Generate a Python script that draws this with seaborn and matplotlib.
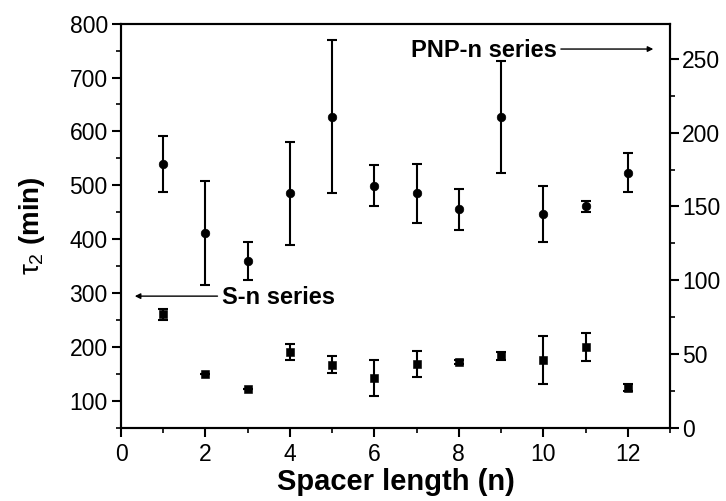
import matplotlib
matplotlib.use("Agg")
import matplotlib.pyplot as plt
import seaborn as sns
import numpy as np
import pandas as pd
from matplotlib.ticker import MultipleLocator

# ---- data ----
n_values = [1, 2, 3, 4, 5, 6, 7, 8, 9, 10, 11, 12]
# circles (PNP-n series, right axis)
pnp_tau2 = [179, 132, 113, 159, 211, 164, 159, 148, 211, 145, 150, 173]
pnp_err = [19, 35, 13, 35, 52, 14, 20, 14, 38, 19, 4, 13]
# squares (S-n series, left axis)
sn_tau2 = [260, 150, 121, 190, 167, 142, 168, 172, 183, 175, 200, 124]
sn_err = [10, 0, 0, 15, 15, 33, 24, 4, 8, 45, 26, 6]

x_ticks = [0, 2, 4, 6, 8, 10, 12]
left_ticks = [100, 200, 300, 400, 500, 600, 700, 800]
right_ticks = [0, 50, 100, 150, 200, 250]

sns.set_theme(style="ticks")
plt.rcParams['font.family'] = ['Liberation Sans', 'DejaVu Sans']
plt.rcParams['mathtext.fontset'] = 'custom'
plt.rcParams['mathtext.rm'] = 'Liberation Sans'
plt.rcParams['mathtext.it'] = 'Liberation Sans'
plt.rcParams['text.color'] = 'black'
plt.rcParams['axes.labelcolor'] = 'black'

fig = plt.figure(figsize=(7.26, 5.01), dpi=100)
ax = fig.add_axes([0.1667, 0.1467, 0.7562, 0.806])
ax2 = ax.twinx()

sn_df = pd.DataFrame({"n": n_values, "tau2": sn_tau2, "err": sn_err})
pnp_df = pd.DataFrame({"n": n_values, "tau2": pnp_tau2, "err": pnp_err})

# S-n on left axis (squares)
ax.errorbar(sn_df["n"], sn_df["tau2"], yerr=sn_df["err"], fmt='none',
            ecolor='black', elinewidth=1.5, capsize=3.7, capthick=1.5)
sns.scatterplot(data=sn_df, x="n", y="tau2", marker='s', s=26, color='black',
                edgecolor='black', ax=ax, legend=False, zorder=3)

# PNP-n on right axis (circles)
ax2.errorbar(pnp_df["n"], pnp_df["tau2"], yerr=pnp_df["err"], fmt='none',
             ecolor='black', elinewidth=1.5, capsize=3.7, capthick=1.5)
sns.scatterplot(data=pnp_df, x="n", y="tau2", marker='o', s=38, color='black',
                edgecolor='black', ax=ax2, legend=False, zorder=3)

ax.set_xlim(0, 13)
ax.set_ylim(50, 800)
ax2.set_ylim(0, 274)

ax.set_xticks(x_ticks)
ax.xaxis.set_minor_locator(MultipleLocator(1))
ax.set_yticks(left_ticks)
ax.yaxis.set_minor_locator(MultipleLocator(50))
ax2.set_yticks(right_ticks)
ax2.yaxis.set_minor_locator(MultipleLocator(25))

for a in (ax, ax2):
    for sp in a.spines.values():
        sp.set_linewidth(1.5)
        sp.set_color('black')
    a.tick_params(which='major', length=6.5, width=1.5, labelsize=16.5,
                  colors='black', pad=3)
    a.tick_params(which='minor', length=3.7, width=1.2, colors='black')

ax.tick_params(axis='x', which='major', pad=5)
ax.tick_params(axis='x', which='both', top=False)
ax.tick_params(axis='y', which='both', right=False)
ax2.tick_params(axis='y', which='both', left=False, right=True)
ax2.tick_params(axis='y', which='major', pad=2)

ax.set_xlabel("Spacer length (n)", fontsize=21, fontweight='bold', labelpad=1)
ax.set_ylabel(r"$\tau_2$ (min)", fontsize=20, fontweight='bold', labelpad=16)
ax2.set_ylabel("")

# annotations
ax.annotate("", xy=(0.26, 294), xytext=(2.35, 294),
            arrowprops=dict(arrowstyle='-|>', color='black', lw=1.0,
                            mutation_scale=8))
ax.text(2.38, 292, "S-n series", fontsize=17, fontweight='bold',
        va='center', ha='left')
ax2.annotate("", xy=(12.67, 256.8), xytext=(10.35, 256.8),
             arrowprops=dict(arrowstyle='-|>', color='black', lw=1.0,
                             mutation_scale=8))
ax2.text(10.33, 256, "PNP-n series", fontsize=17, fontweight='bold',
         va='center', ha='right')

fig.savefig("out.png", dpi=100)
